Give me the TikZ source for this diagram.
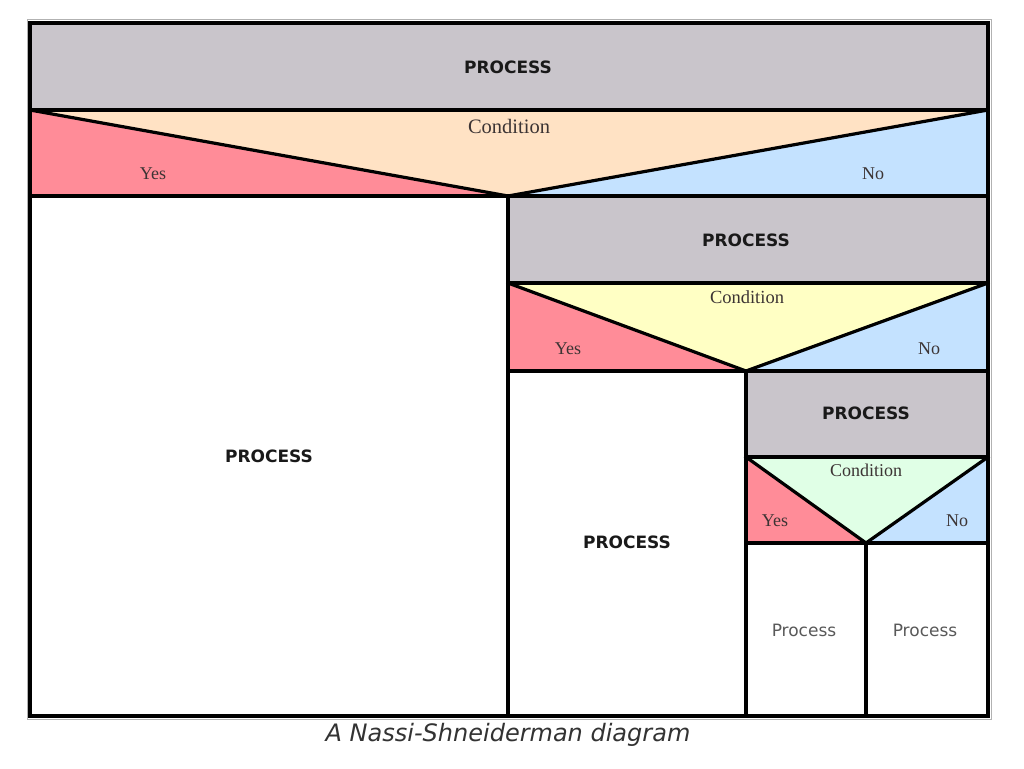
\documentclass[tikz,border=0pt]{standalone}
\usepackage{fontspec}
\setmainfont{Liberation Serif}
\newfontfamily\boxfont{DejaVu Sans}
\definecolor{procgray}{RGB}{201,197,203}
\definecolor{yespink}{RGB}{255,140,152}
\definecolor{nobluefill}{RGB}{196,226,255}
\definecolor{peachfill}{RGB}{255,226,196}
\definecolor{yellowfill}{RGB}{255,255,196}
\definecolor{mintfill}{RGB}{224,255,230}
\definecolor{labeltext}{RGB}{60,52,52}
\tikzset{
  rule/.style={draw=black, line width=3.2pt, line cap=rect},
  proclabel/.style={font=\boxfont\bfseries\fontsize{17}{20}\selectfont, text=black!90},
  smallproc/.style={font=\boxfont\fontsize{17}{20}\selectfont, text=black!65},
  condlabel/.style={font=\fontsize{18.5}{21}\selectfont, text=labeltext},
  branchlabel/.style={font=\fontsize{18}{21}\selectfont, text=labeltext},
}
\begin{document}
\begin{tikzpicture}[x=1pt,y=-1pt]
\useasboundingbox (0,0) rectangle (1024,768);
\fill[white] (0,0) rectangle (1024,768);

% grey process bars
\fill[procgray] (30,23) rectangle (988,110);
\fill[procgray] (508,196) rectangle (988,283);
\fill[procgray] (746,371) rectangle (988,457);

% first decision
\fill[peachfill] (30,110) -- (988,110) -- (508,196) -- cycle;
\fill[yespink] (30,110) -- (508,196) -- (30,196) -- cycle;
\fill[nobluefill] (988,110) -- (988,196) -- (508,196) -- cycle;

% second decision
\fill[yellowfill] (508,283) -- (988,283) -- (746,371) -- cycle;
\fill[yespink] (508,283) -- (746,371) -- (508,371) -- cycle;
\fill[nobluefill] (988,283) -- (988,371) -- (746,371) -- cycle;

% third decision
\fill[mintfill] (746,457) -- (988,457) -- (866,543) -- cycle;
\fill[yespink] (746,457) -- (866,543) -- (746,543) -- cycle;
\fill[nobluefill] (988,457) -- (988,543) -- (866,543) -- cycle;

% faint outer edge
\draw[black!30, line width=1pt] (27,20) rectangle (991,719);

% structure lines
\draw[rule] (30,23) rectangle (988,716);
\draw[rule] (30,110) -- (988,110);
\draw[rule] (30,196) -- (988,196);
\draw[rule] (30,110) -- (508,196) -- (988,110);
\draw[rule] (508,196) -- (508,716);
\draw[rule] (508,283) -- (988,283);
\draw[rule] (508,371) -- (988,371);
\draw[rule] (508,283) -- (746,371) -- (988,283);
\draw[rule] (746,371) -- (746,716);
\draw[rule] (746,457) -- (988,457);
\draw[rule] (746,543) -- (988,543);
\draw[rule] (746,457) -- (866,543) -- (988,457);
\draw[rule] (866,543) -- (866,716);

% labels
\node[proclabel] (p1) at (508,67) {PROCESS};
\node[condlabel, font=\fontsize{20.5}{23}\selectfont] (c1) at (509,126) {Condition};
\node[branchlabel] (y1) at (153,174) {Yes};
\node[branchlabel] (n1) at (873,174) {No};
\node[proclabel] (p2) at (269,456) {PROCESS};

\node[proclabel] (p3) at (746,240) {PROCESS};
\node[condlabel] (c2) at (747,297) {Condition};
\node[branchlabel] (y2) at (568,349) {Yes};
\node[branchlabel] (n2) at (929,349) {No};
\node[proclabel] (p4) at (627,542) {PROCESS};

\node[proclabel] (p5) at (866,413) {PROCESS};
\node[condlabel, font=\fontsize{18}{21}\selectfont] (c3) at (866,470) {Condition};
\node[branchlabel] (y3) at (775,521) {Yes};
\node[branchlabel] (n3) at (957,521) {No};
\node[smallproc] (p6) at (804,630) {Process};
\node[smallproc] (p7) at (925,630) {Process};

\node[font=\boxfont\itshape\fontsize{24}{28}\selectfont, text=black!80] (cap) at (508,735) {A Nassi-Shneiderman diagram};
\end{tikzpicture}
\end{document}
